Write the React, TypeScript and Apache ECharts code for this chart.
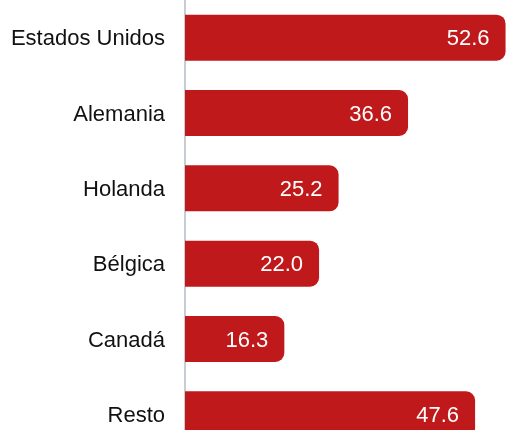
import React, { useEffect, useRef } from "react";
import * as echarts from "echarts";

const categories = ["Estados Unidos", "Alemania", "Holanda", "Bélgica", "Canadá", "Resto"];
const values = [52.6, 36.6, 25.2, 22.0, 16.3, 47.6];

export default function App() {
  const ref = useRef<HTMLDivElement>(null);
  useEffect(() => {
    if (!ref.current) return;
    const chart = echarts.init(ref.current, undefined, { renderer: "svg" });
    chart.setOption({
      animation: false,
      grid: { left: 185, top: 0, width: 325, height: 452, containLabel: false },
      xAxis: {
        type: "value",
        min: 0,
        max: 53,
        show: false,
      },
      yAxis: {
        type: "category",
        data: categories,
        inverse: true,
        axisLine: { show: true, lineStyle: { color: "#B4BCC4", width: 1.5 } },
        axisTick: { show: false },
        axisLabel: {
          color: "#111",
          fontSize: 22,
          fontFamily: "Liberation Sans, Arial, sans-serif",
          margin: 20,
        },
      },
      series: [
        {
          type: "bar",
          data: values,
          barWidth: 46,
          itemStyle: { color: "#C0191B", borderRadius: [0, 9, 9, 0] },
          label: {
            show: true,
            position: "insideRight",
            distance: 16,
            color: "#fff",
            fontSize: 22,
            fontFamily: "Liberation Sans, Arial, sans-serif",
            formatter: (p: any) => p.value.toFixed(1),
          },
        },
      ],
    });
    return () => chart.dispose();
  }, []);
  return (
    <div style={{ position: "fixed", left: 0, top: 0, width: 508, height: 430, overflow: "hidden" }}>
      <div ref={ref} style={{ width: 508, height: 452 }} />
    </div>
  );
}
